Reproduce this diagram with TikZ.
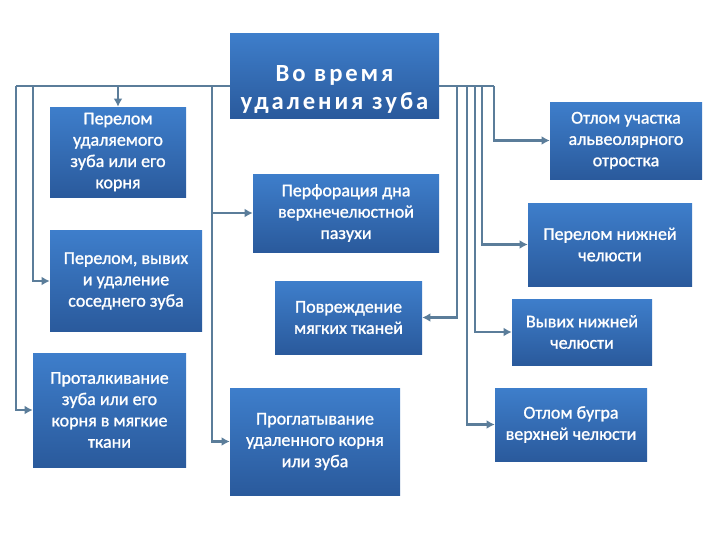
\documentclass[tikz,border=0pt]{standalone}
\usepackage{fontspec}
\setmainfont{Carlito}[FakeBold=1.2]
\newfontfamily\spacedfont[LetterSpace=12]{Carlito}
\usetikzlibrary{arrows.meta}
\definecolor{boxtop}{HTML}{3E7ECB}
\definecolor{boxbot}{HTML}{2A5A9C}
\definecolor{linec}{HTML}{5B7D9A}
\tikzset{
  box/.style={rectangle, top color=boxtop, bottom color=boxbot, draw=none,
    text=white, align=center, font=\fontsize{13.5}{16}\selectfont, inner sep=2pt},
  sz/.style 2 args={minimum width=#1*0.75pt, minimum height=#2*0.75pt},
  conn/.style={draw=linec, line width=2.2pt},
  arr/.style={conn, -{Latex[length=6pt,width=6.5pt]}},
  maintext/.style={text=white, align=center, font=\spacedfont\bfseries\fontsize{18.5}{21}\selectfont}
}
\begin{document}
\begin{tikzpicture}[x=0.75pt,y=-0.75pt]
\useasboundingbox (0,0) rectangle (720,540);
% boxes
\node[box, sz={209}{85}] (main) at (334.5,75.5) {};
\node[maintext] (maintxt) at (334.5,89) {Во время\\удаления зуба};
\node[box, sz={136}{90}] (b1) at (118,152) {Перелом\\удаляемого\\зуба или его\\корня};
\node[box, sz={152}{101}] (b2) at (126,281) {Перелом, вывих\\и удаление\\соседнего зуба};
\node[box, sz={153}{114}] (b3) at (109.5,410) {Проталкивание\\зуба или его\\корня в мягкие\\ткани};
\node[box, sz={186}{78}] (b4) at (346,213) {Перфорация дна\\верхнечелюстной\\пазухи};
\node[box, sz={147}{73}] (b5) at (348.5,317.5) {Повреждение\\мягких тканей};
\node[box, sz={170}{107}] (b6) at (315,441.5) {Проглатывание\\удаленного корня\\или зуба};
\node[box, sz={152}{77}] (r1) at (626,140.5) {Отлом участка\\альвеолярного\\отростка};
\node[box, sz={164}{83}] (r2) at (610,244.5) {Перелом нижней\\челюсти};
\node[box, sz={140}{66}] (r3) at (582,332) {Вывих нижней\\челюсти};
\node[box, sz={152}{73}] (r4) at (571,424.5) {Отлом бугра\\верхней челюсти};
% coordinates
\coordinate (mL) at (230,86);
\coordinate (mR) at (439,86);
\coordinate (l16) at (16,86);
\coordinate (l33) at (33,86);
\coordinate (l118) at (118,86);
\coordinate (l212) at (212,86);
\coordinate (r457) at (457,86);
\coordinate (r467) at (467,86);
\coordinate (r475) at (475,86);
\coordinate (r482) at (482,86);
\coordinate (r494) at (494,86);
% left connectors
\draw[conn] (mL) -- (l16);
\draw[arr] (l16) |- (b3.west);
\draw[arr] (l33) |- (b2.west);
\draw[arr] (l118) -- (b1.north);
\draw[arr] (l212) |- (b4.west);
\draw[arr] (l212) |- (b6.west);
% right connectors
\draw[conn] (mR) -- (r494);
\draw[arr] (r494) |- (r1.west);
\draw[arr] (r482) |- (r2.west);
\draw[arr] (r475) |- (r3.west);
\draw[arr] (r467) |- (r4.west);
\draw[arr] (r457) |- (b5.east);
\end{tikzpicture}
\end{document}
